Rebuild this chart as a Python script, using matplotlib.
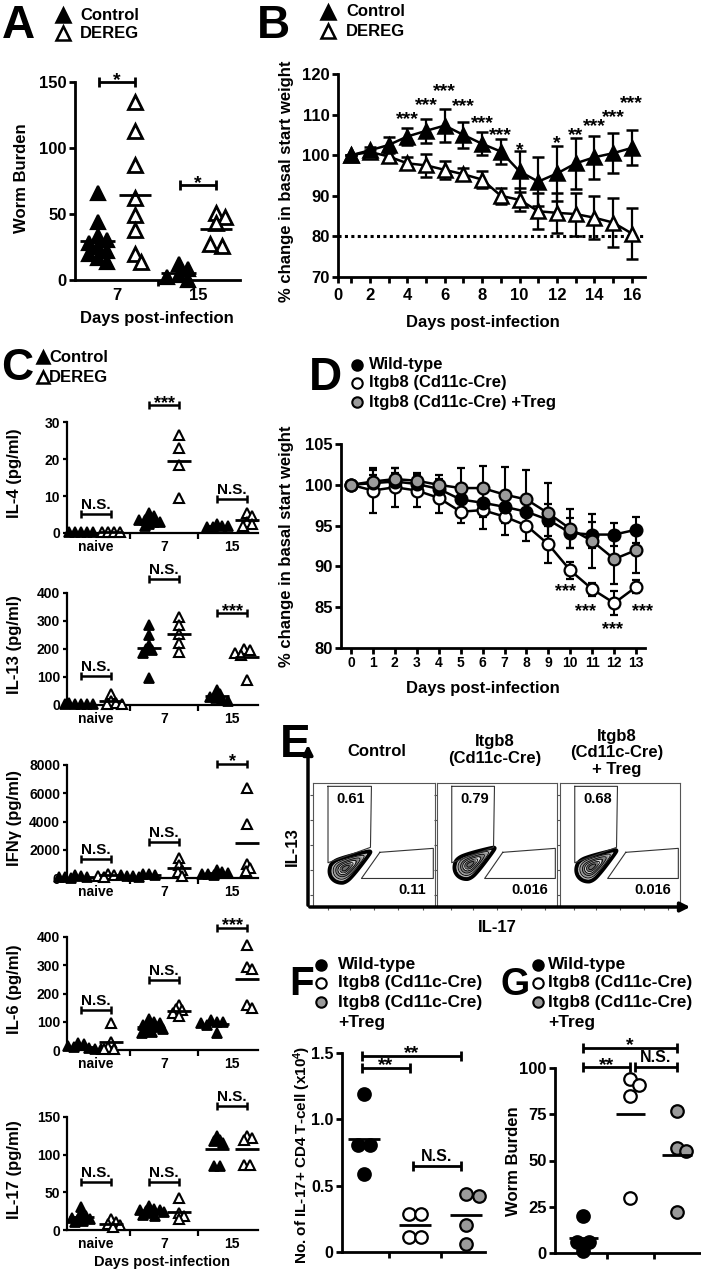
import numpy as np
import matplotlib
matplotlib.use("Agg")
import matplotlib.pyplot as plt

plt.rcParams['font.family'] = ['Liberation Sans', 'DejaVu Sans']
plt.rcParams['font.weight'] = 'bold'
plt.rcParams['mathtext.fontset'] = 'custom'
plt.rcParams['mathtext.rm'] = 'Liberation Sans:bold'
plt.rcParams['mathtext.bf'] = 'Liberation Sans:bold'
plt.rcParams['mathtext.default'] = 'bf'

# ---------------- data ----------------
# A: worm burden, day 7 and 15
a_days = ['7', '15']
a_ctrl = [[66, 44, 33, 30, 28, 25, 22, 20, 17, 14], [12, 8, 4, 2, 0]]
a_dereg = [[135, 113, 87, 62, 49, 38, 20, 14], [51, 48, 43, 26, 27]]
a_sig = ['*', '*']
a_sig_y = [150, 72]

# B: weight curve
b_days = np.arange(1, 17)
b_ctrl = [100, 101.2, 102.5, 104.6, 106.0, 107.3, 105.0, 102.8, 100.9, 96.0,
          93.5, 95.5, 98.0, 99.5, 100.5, 101.8]
b_ctrl_sd = [0, 0.8, 2.0, 2.2, 3.0, 4.0, 3.2, 2.8, 3.0, 5.0, 6.0, 6.8, 6.3, 5.3, 5.0, 4.3]
b_dereg = [100, 100.8, 99.7, 98.0, 97.5, 96.4, 95.3, 94.0, 90.0, 89.0,
           86.2, 85.8, 85.5, 84.6, 83.4, 80.7]
b_dereg_sd = [0, 0.5, 1.0, 1.5, 2.8, 2.2, 1.5, 2.0, 2.0, 2.8, 4.5, 5.0, 5.3, 5.3, 6.0, 6.3]
b_stars = ['', '', '', '***', '***', '***', '***', '***', '***', '*', '', '*', '**', '***', '***', '***']
b_star_y = [0, 0, 0, 110.4, 113.9, 117.4, 113.5, 109.4, 106.4, 102.8, 0, 104.4, 106.4, 108.6, 111.0, 114.3]

# C: cytokines (naive, 7, 15)
c_days = ['naive', '7', '15']
c_names = ['IL-4 (pg/ml)', 'IL-13 (pg/ml)', 'IFNγ (pg/ml)', 'IL-6 (pg/ml)', 'IL-17 (pg/ml)']
c_ymax = [30, 400, 8000, 400, 150]
c_ystep = [10, 100, 2000, 100, 50]
c_ctrl = [
    [[0.4, 0.4, 0.4, 0.4, 0.4], [5.5, 4.5, 4, 3.5, 3.5, 3, 3, 2.5, 2], [2.5, 2, 2, 1.5, 1.5]],
    [[8, 5, 4, 3, 3, 2], [285, 250, 215, 200, 195, 185, 95], [55, 40, 30, 25, 20, 15]],
    [[200, 150, 100, 80, 50, 30], [300, 250, 200, 180, 150, 120, 100], [600, 450, 350, 300, 250, 200]],
    [[25, 20, 15, 10, 8, 5, 3], [110, 100, 95, 90, 85, 80, 75, 70, 65, 60], [105, 100, 100, 95, 90, 60]],
    [[30, 22, 18, 16, 15, 14, 12, 10], [32, 28, 27, 26, 25, 24, 22, 20, 18], [125, 120, 118, 115, 85, 85]],
]
c_dereg = [
    [[0.4, 0.4, 0.4, 0.4], [26.5, 23, 18.5, 9.5], [5.5, 4.5, 3, 2.5, 2]],
    [[40, 15, 8, 3, 2], [315, 285, 255, 220, 190], [200, 195, 185, 180, 90]],
    [[300, 200, 150, 100], [1400, 900, 600, 400, 150], [6400, 3800, 1000, 700, 500]],
    [[95, 28, 10, 5, 2], [160, 145, 140, 130, 120], [370, 295, 285, 160, 150]],
    [[14, 10, 8, 6, 4], [42, 22, 18, 14], [125, 122, 120, 86, 86]],
]
c_sig = [['N.S.', '***', 'N.S.'], ['N.S.', 'N.S.', '***'], ['N.S.', 'N.S.', '*'],
         ['N.S.', 'N.S.', '***'], ['N.S.', 'N.S.', 'N.S.']]
c_sig_y = [[5.1, 34.6, 9.2], [105, 450, 328], [1350, 2550, 8100], [143, 247, 433], [64, 64, 165]]

# D: weight curve, three groups
d_days = np.arange(0, 14)
d_wt = [100, 100.2, 100.4, 100.1, 99.5, 98.2, 97.8, 97.3, 96.7, 95.7, 94.1, 93.9, 93.9, 94.5]
d_wt_sd = [0, 1.0, 1.0, 1.0, 1.2, 1.5, 1.7, 2.0, 2.0, 2.0, 1.8, 1.6, 1.4, 1.6]
d_ko = [100, 99.3, 99.7, 99.3, 98.4, 96.7, 96.9, 96.1, 95.0, 92.7, 89.5, 87.2, 85.5, 87.5]
d_ko_sd = [0, 2.8, 2.4, 2.0, 1.9, 1.4, 2.3, 2.2, 1.9, 2.3, 1.0, 0.8, 1.5, 0.8]
d_treg = [100, 100.4, 100.7, 100.5, 100.0, 99.6, 99.6, 98.8, 98.2, 96.5, 94.6, 93.1, 90.9, 92.0]
d_treg_sd = [0, 1.4, 1.3, 1.0, 1.2, 2.4, 2.7, 3.4, 3.6, 3.7, 2.4, 3.3, 3.0, 2.8]
d_star_x = [9.8, 10.7, 11.9, 13.3]
d_star_y = [87.6, 85.1, 82.9, 85.1]

# E: flow gates
e_titles = ['Control', 'Itgb8\n(Cd11c-Cre)', 'Itgb8\n(Cd11c-Cre)\n+ Treg']
e_il13 = ['0.61', '0.79', '0.68']
e_il17 = ['0.11', '0.016', '0.016']

# F / G
fg_groups = ['Wild-type', 'Itgb8 (Cd11c-Cre)', 'Itgb8 (Cd11c-Cre)']
f_vals = [[1.19, 0.81, 0.81, 0.59], [0.29, 0.29, 0.11, 0.11], [0.44, 0.42, 0.20, 0.06]]
f_sig = [(1, 3, 1.48, '**'), (1, 2, 1.39, '**'), (2, 3, 0.65, 'N.S.')]
g_vals = [[20, 6, 6, 1], [94, 91, 85, 30], [77, 57, 55, 22]]
g_sig = [(1, 3, 111, '*'), (1, 2, 100.5, '**'), (2.1, 3, 100.5, 'N.S.')]

GREY = '#9a9a9a'
FACES = ['k', 'white', GREY]

W, H = 701, 1274
fig = plt.figure(figsize=(W / 100, H / 100), dpi=100)

ov = fig.add_axes([0, 0, 1, 1], zorder=10)
ov.set_xlim(0, W)
ov.set_ylim(H, 0)
ov.axis('off')


def panel(l, t, r, b, lw=2.0, size=12):
    ax = fig.add_axes([l / W, 1 - b / H, (r - l) / W, (b - t) / H])
    ax.spines['top'].set_visible(False)
    ax.spines['right'].set_visible(False)
    ax.spines['left'].set_linewidth(lw)
    ax.spines['bottom'].set_linewidth(lw)
    ax.tick_params(width=lw, length=4, labelsize=size, pad=2)
    ax.patch.set_alpha(0)
    return ax


def swarm(vals, ppx, ppy, d):
    vals = np.asarray(vals, float)
    order = np.argsort(-vals, kind='stable')
    offs = np.zeros(len(vals))
    placed = []
    i = 0
    while i < len(order):
        j = i
        while j + 1 < len(order) and abs(vals[order[j + 1]] - vals[order[i]]) * ppy < 1.5:
            j += 1
        row = order[i:j + 1]
        base = (np.arange(len(row)) - (len(row) - 1) / 2) * d
        y = vals[row[0]] * ppy
        for k in [0] + [s * m for m in range(1, 60) for s in (1, -1)]:
            cand = base + k * d * 0.25
            if all((c - px) ** 2 + (y - py) ** 2 >= (0.8 * d) ** 2
                   for c in cand for px, py in placed):
                break
        for idx, c in zip(row, cand):
            offs[idx] = c / ppx
            placed.append((c, vals[idx] * ppy))
        i = j + 1
    return offs


def group(ax, xc, vals, ppx, ppy, d, face, marker, ms, mean_w, mew=1.6):
    x = xc + swarm(vals, ppx, ppy, d)
    ax.plot(x, vals, ls='none', marker=marker, ms=ms, mfc=face, mec='k', mew=mew,
            clip_on=False, zorder=3)
    m = np.mean(vals)
    ax.plot([xc - mean_w / 2, xc + mean_w / 2], [m, m], color='k', lw=2, zorder=4,
            clip_on=False, solid_capstyle='butt')


def sigbar(ax, x1, x2, y, label, lw=2, cap=7, star_size=14, ns_size=11.5):
    ax.plot([x1, x2], [y, y], color='k', lw=lw, clip_on=False, solid_capstyle='butt')
    ax.plot([x1, x2], [y, y], ls='none', marker='|', ms=cap, mew=lw, color='k', clip_on=False)
    star = label.startswith('*')
    ax.annotate(label, ((x1 + x2) / 2, y), xytext=(0, -2 if star else 3.5),
                textcoords='offset points', ha='center', va='baseline',
                fontsize=star_size if star else ns_size, annotation_clip=False)


def cat_axis(ax, n, size, pad):
    ax.set_xticks(np.arange(1, n + 1))
    ax.set_xticks(np.arange(1.5, n), minor=True)
    ax.tick_params(axis='x', which='major', length=0, pad=pad, labelsize=size)
    ax.tick_params(axis='x', which='minor', length=4, width=ax.spines['bottom'].get_linewidth())


# letters
for letter, x, y, fs in [('A', 2, 38, 33), ('B', 257, 38, 33), ('C', 1, 380, 32),
                         ('D', 309, 390, 33), ('E', 280, 757, 33), ('F', 289, 995, 29),
                         ('G', 501, 995, 27)]:
    ov.text(x, y, letter, fontsize=fs, ha='left', va='baseline')


def tri_legend(x, ys, tx, size=12, ms=10):
    for y, face, lab in zip(ys, ['k', 'white'], ['Control', 'DEREG']):
        ov.plot([x], [y], marker='^', ms=ms, mfc=face, mec='k', mew=1.8)
        ov.text(tx, y, lab, fontsize=size, va='center', ha='left')


def circ_legend(x, ys, tx, labels, size=12, ms=7.5):
    for y, face, lab in zip(ys, FACES, labels):
        ov.plot([x], [y], marker='o', ms=ms, mfc=face, mec='k', mew=1.5)
        ov.text(tx, y, lab, fontsize=size, va='center', ha='left')


tri_legend(63, [15, 33], 80)
tri_legend(328, [12, 31], 346)
tri_legend(43, [357, 377], 49, ms=9)
circ_legend(357, [365, 383, 402], 369, ['Wild-type', 'Itgb8 (Cd11c-Cre)', 'Itgb8 (Cd11c-Cre) +Treg'])
circ_legend(321, [965, 983, 1002], 338, fg_groups, size=12.5)
ov.text(338, 1022, '+Treg', fontsize=12.5, va='center')
circ_legend(538, [965, 983, 1002], 548, fg_groups, size=12.5)
ov.text(548, 1022, '+Treg', fontsize=12.5, va='center')

# ---------------- A ----------------
axA = panel(75, 82, 240, 280)
axA.set_xlim(0.48, 2.52)
axA.set_ylim(0, 150)
axA.set_yticks([0, 50, 100, 150])
cat_axis(axA, 2, 12, 6)
axA.set_xticklabels(a_days)
ppx, ppy = 165 / 2.04, 198 / 150
for i in range(2):
    xc = i + 1
    group(axA, xc - 0.24, a_ctrl[i], ppx, ppy, 12, 'k', '^', 9.5, 0.44)
    group(axA, xc + 0.22, a_dereg[i], ppx, ppy, 12, 'white', '^', 9.5, 0.40, mew=2)
    sigbar(axA, xc - 0.22, xc + 0.22, a_sig_y[i], a_sig[i])
ov.text(22, 178, 'Worm Burden', rotation=90, fontsize=12, ha='center', va='center')
ov.text(157, 318, 'Days post-infection', fontsize=12, ha='center', va='center')

# ---------------- B ----------------
axB = panel(338, 74, 645, 277)
axB.set_xlim(0.3, 16.7)
axB.set_ylim(70, 120)
axB.set_yticks(np.arange(70, 121, 10))
axB.set_xticks([0.3] + list(b_days))
axB.set_xticklabels(['0'] + [str(d) if d % 2 == 0 else '' for d in b_days])
axB.tick_params(axis='x', pad=4)
axB.plot([0.3, 16.7], [80, 80], color='k', lw=2.2, ls=(0, (1, 1.1)), zorder=1)
for vals, sd, face, z in [(b_dereg, b_dereg_sd, 'white', 3), (b_ctrl, b_ctrl_sd, 'k', 4)]:
    axB.errorbar(b_days, vals, yerr=sd, color='k', lw=1.8, marker='^', ms=10.5,
                 mfc=face, mec='k', mew=1.8, capsize=4.5, capthick=1.6,
                 elinewidth=1.6, zorder=z)
for d, s, y in zip(b_days, b_stars, b_star_y):
    if s:
        axB.annotate(s, (d, y), xytext=(0, -8), textcoords='offset points', ha='center',
                     va='baseline', fontsize=14, annotation_clip=False)
ov.text(287, 181, '% change in basal start weight', rotation=90, fontsize=12, ha='center', va='center')
ov.text(483, 322, 'Days post-infection', fontsize=12, ha='center', va='center')

# ---------------- C ----------------
c_rows = [(422, 533), (593, 705), (765, 878), (937, 1050), (1117, 1230)]
for k, (t, b) in enumerate(c_rows):
    ax = panel(67, t, 258, b, lw=1.6, size=10)
    ax.set_xlim(0.57, 3.38)
    ax.set_ylim(0, c_ymax[k])
    ax.set_yticks(np.arange(0, c_ymax[k] + 1, c_ystep[k]))
    ax.tick_params(axis='y', length=3)
    cat_axis(ax, 3, 10, 5)
    ax.set_xticklabels(c_days)
    ppx, ppy = 68, (b - t) / c_ymax[k]
    for i in range(3):
        xc = i + 1
        group(ax, xc - 0.22, c_ctrl[k][i], ppx, ppy, 6, 'k', '^', 7.2, 0.36, mew=1.3)
        group(ax, xc + 0.22, c_dereg[k][i], ppx, ppy, 6, 'white', '^', 7.2, 0.36, mew=1.5)
        sigbar(ax, xc - 0.22, xc + 0.22, c_sig_y[k][i], c_sig[k][i], lw=1.8, cap=6,
               star_size=13, ns_size=11)
    ov.text(15, (t + b) / 2 - 4, c_names[k], rotation=90, fontsize=12, ha='center', va='center')
ov.text(162, 1262, 'Days post-infection', fontsize=10.5, ha='center', va='center')

# ---------------- D ----------------
axD = panel(341, 444, 645, 648)
axD.set_xlim(-0.45, 13.4)
axD.set_ylim(80, 105)
axD.set_yticks(np.arange(80, 106, 5))
axD.set_xticks(d_days)
axD.tick_params(axis='x', labelsize=10, pad=2)
for vals, sd, face in [(d_ko, d_ko_sd, 'white'), (d_wt, d_wt_sd, 'k'), (d_treg, d_treg_sd, GREY)]:
    axD.errorbar(d_days, vals, yerr=sd, color='k', lw=1.8, marker='o', ms=8.5,
                 mfc=face, mec='k', mew=1.6, capsize=3, capthick=1.5, elinewidth=1.5)
for x, y in zip(d_star_x, d_star_y):
    axD.annotate('***', (x, y), xytext=(0, -7), textcoords='offset points', ha='center',
                 va='baseline', fontsize=13, annotation_clip=False)
ov.text(287, 546, '% change in basal start weight', rotation=90, fontsize=12, ha='center', va='center')
ov.text(483, 688, 'Days post-infection', fontsize=12, ha='center', va='center')

# ---------------- E ----------------
e_boxes = [(313, 435), (437, 557), (560, 680)]
e_title_x = [377, 495, 617]
e_title_y = [752, 750, 753]
blob_c = [(0.26, 0.31), (0.27, 0.34), (0.26, 0.32)]
gx, gy = np.meshgrid(np.linspace(0, 1, 300), np.linspace(0, 1, 300))
gate1 = np.array([(0.123, 0.973), (0.479, 0.973), (0.471, 0.481), (0.123, 0.357), (0.123, 0.973)])
gate2 = np.array([(0.548, 0.441), (0.986, 0.473), (0.986, 0.230), (0.397, 0.230), (0.548, 0.441)])
for k, (l, r) in enumerate(e_boxes):
    ax = fig.add_axes([l / W, 1 - 907 / H, (r - l) / W, (907 - 783) / H])
    ax.set_xlim(0, 1)
    ax.set_ylim(0, 1)
    for s in ax.spines.values():
        s.set_linewidth(0.8)
        s.set_color('#555555')
    ax.set_xticks([0.12, 0.3, 0.5, 0.7, 0.9])
    ax.set_yticks([0.1, 0.3, 0.5, 0.7, 0.9])
    ax.tick_params(length=2, width=0.8, labelleft=False, labelbottom=False, colors='#555555')
    th = np.deg2rad(33)
    cx, cy = blob_c[k]
    u = (gx - cx) * np.cos(th) + (gy - cy) * np.sin(th)
    v = -(gx - cx) * np.sin(th) + (gy - cy) * np.cos(th)
    su = np.where(u > 0, 0.095, 0.05)
    sv = 0.034 * np.clip(1 - u / 0.38, 0.3, 1.2)
    dens = np.exp(-0.5 * ((u / su) ** 2 + (v / sv) ** 2))
    ax.contourf(gx, gy, dens, levels=[0.03, 0.1, 0.22, 0.4, 0.6, 0.8, 1.01],
                colors=['#d0d0d0', '#b4b4b4', '#9a9a9a', '#808080', '#d8d8d8', '#707070'])
    ax.contour(gx, gy, dens, levels=[0.06, 0.14, 0.3, 0.5, 0.7, 0.9], colors='k', linewidths=0.6)
    ax.contour(gx, gy, dens, levels=[0.03], colors='k', linewidths=2.6)
    ax.plot(gate1[:, 0], gate1[:, 1], color='#333333', lw=0.8)
    ax.plot(gate2[:, 0], gate2[:, 1], color='#333333', lw=0.8)
    ax.text(0.31, 0.87, e_il13[k], fontsize=10.5, ha='center', va='center')
    ax.text(0.93, 0.14, e_il17[k], fontsize=10.5, ha='right', va='center')
    ov.text(e_title_x[k], e_title_y[k], e_titles[k], fontsize=12, ha='center', va='center',
            linespacing=1.15)
ov.annotate('', xy=(308, 742), xytext=(308, 908),
            arrowprops=dict(arrowstyle='-|>', lw=2.5, color='k', mutation_scale=14))
ov.annotate('', xy=(693, 907), xytext=(307, 907),
            arrowprops=dict(arrowstyle='-|>', lw=2.5, color='k', mutation_scale=14))
ov.text(292, 847, 'IL-13', rotation=90, fontsize=12, ha='center', va='center')
ov.text(497, 927, 'IL-17', fontsize=12, ha='center', va='center')

# ---------------- F ----------------
axF = panel(342, 1053, 485, 1252, size=11.5)
axF.set_xlim(0.57, 3.37)
axF.set_ylim(0, 1.5)
axF.set_yticks([0, 0.5, 1.0, 1.5])
axF.set_yticklabels(['0', '0.5', '1.0', '1.5'])
cat_axis(axF, 3, 12, 4)
axF.set_xticklabels([])
ppx, ppy = 51, 199 / 1.5
for i in range(3):
    group(axF, i + 1, f_vals[i], ppx, ppy, 12.5, FACES[i], 'o', 9, 0.62)
for x1, x2, y, s in f_sig:
    sigbar(axF, x1 - 0.04, x2 - 0.1, y, s)
ov.text(302, 1155, 'No. of IL-17+ CD4 T-cell (x10$^4$)', rotation=90, fontsize=11,
        ha='center', va='center')

# ---------------- G ----------------
axG = panel(555, 1068, 700, 1253)
axG.set_xlim(0.40, 3.49)
axG.set_ylim(0, 100)
axG.set_yticks([0, 25, 50, 75, 100])
cat_axis(axG, 3, 12, 4)
axG.set_xticklabels([])
ppx, ppy = 47, 185 / 100
for i in range(3):
    group(axG, i + 1, g_vals[i], ppx, ppy, 12.5, FACES[i], 'o', 9, 0.62)
for x1, x2, y, s in g_sig:
    sigbar(axG, x1, x2, y, s)
ov.text(513, 1161, 'Worm Burden', rotation=90, fontsize=12, ha='center', va='center')

fig.savefig('out.png', dpi=100)
